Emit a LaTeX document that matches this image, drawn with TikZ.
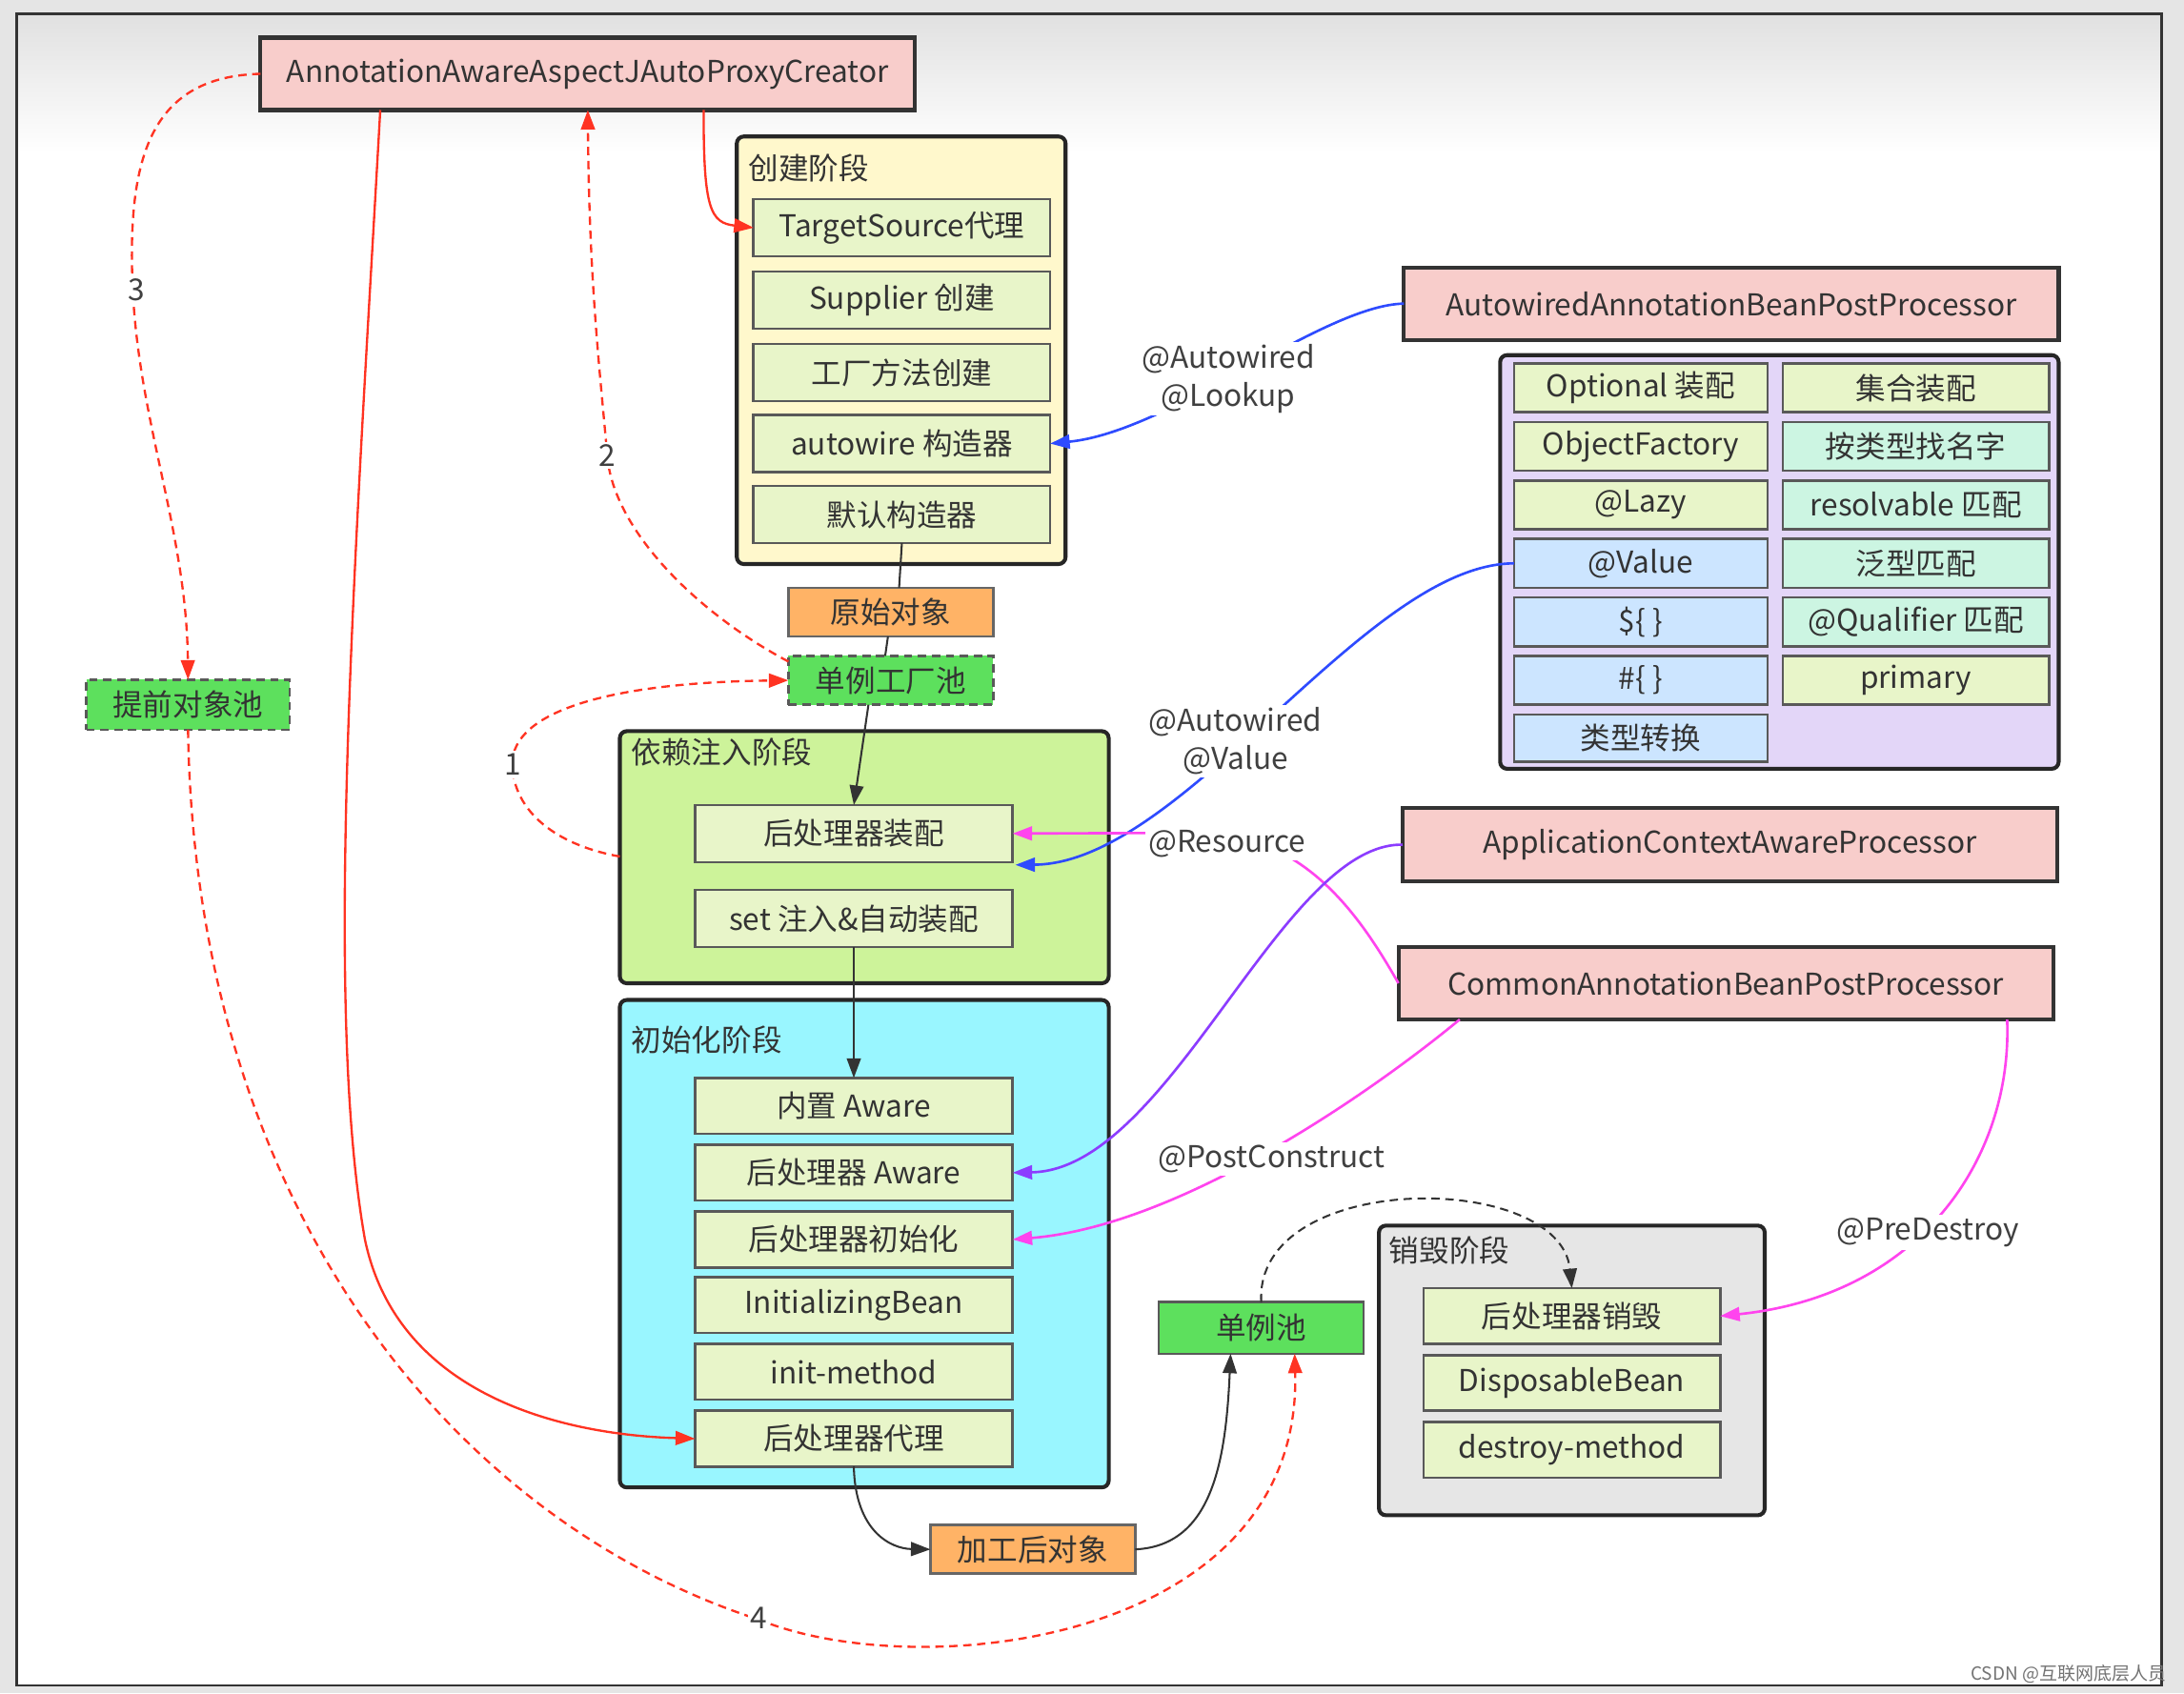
\documentclass[tikz,border=0pt]{standalone}
\usepackage{fontspec}
\setmainfont{Noto Sans CJK SC}
\usetikzlibrary{arrows.meta,fit,calc}
\definecolor{pinkc}{HTML}{F8CDCB}
\definecolor{yelc}{HTML}{FFF8CC}
\definecolor{cellc}{HTML}{E8F5C9}
\definecolor{orgc}{HTML}{FFB366}
\definecolor{grnc}{HTML}{5DE05D}
\definecolor{dic}{HTML}{CDF39A}
\definecolor{cyc}{HTML}{99F6FF}
\definecolor{gyc}{HTML}{E6E6E6}
\definecolor{lavc}{HTML}{E3D6F8}
\definecolor{bluc}{HTML}{CCE5FF}
\definecolor{mintc}{HTML}{CCF5E2}
\definecolor{txtc}{HTML}{333333}
\definecolor{redl}{HTML}{FF3322}
\definecolor{blul}{HTML}{2E4BFF}
\definecolor{magl}{HTML}{FF44EE}
\definecolor{purl}{HTML}{8C3CFF}
\newcommand\boxat[7]{\node[#2, fit={(#3,#4) (#5,#6)}] (#1) {};
  \node[inner sep=0pt, anchor=center] (#1t) at (#1.center) {#7};}
\begin{document}
\begin{tikzpicture}[x=0.5pt,y=-0.5pt,
  every node/.style={font=\fontsize{10.8pt}{13.5pt}\selectfont, text=txtc},
  base/.style={inner sep=0pt, outer sep=0pt},
  pinkbox/.style={base, draw=black!80, line width=1.4pt, fill=pinkc},
  cell/.style={base, draw=black!65, line width=0.9pt, fill=cellc},
  bcell/.style={cell, fill=bluc},
  mcell/.style={cell, fill=mintc},
  cont/.style={base, draw=black!85, line width=1.4pt, rounded corners=2.5pt},
  orgbox/.style={base, draw=black!60, line width=0.9pt, fill=orgc},
  grnbox/.style={base, draw=black!65, line width=0.9pt, fill=grnc},
  dgrnbox/.style={grnbox, dash pattern=on 3pt off 2pt},
  ttl/.style={anchor=west, inner sep=0pt},
  lbl/.style={fill=white, inner sep=1pt, align=center, text=black!75},
  arr/.style={-{Triangle[length=7pt,width=5pt]}},
  redsolid/.style={arr, draw=redl, line width=0.8pt},
  reddash/.style={arr, draw=redl, line width=0.8pt, dash pattern=on 3pt off 2pt},
  blk/.style={arr, draw=black!80, line width=0.7pt},
  blue/.style={arr, draw=blul, line width=0.9pt},
  mag/.style={arr, draw=magl, line width=0.9pt},
  pur/.style={arr, draw=purl, line width=0.9pt}]
% background
\fill[black!10] (0,0) rectangle (1568,1216);
\fill[white] (12,10) rectangle (1552,1210);
\shade[top color=black!12, bottom color=white] (12,10) rectangle (1552,110);
\draw[black!80, line width=0.8pt] (12,10) rectangle (1552,1210);
\useasboundingbox (0,0) rectangle (1568,1216);

% containers
\boxat{cj}{cont, fill=yelc}{529}{98}{765}{405}{}
\boxat{di}{cont, fill=dic}{445}{525}{796}{706}{}
\boxat{cs}{cont, fill=cyc}{445}{718}{796}{1068}{}
\boxat{xh}{cont, fill=gyc}{990}{880}{1267}{1088}{}
\boxat{grid}{cont, fill=lavc}{1077}{255}{1478}{552}{}
\node[ttl] (t1) at (537,121) {创建阶段};
\node[ttl] (t2) at (453,540) {依赖注入阶段};
\node[ttl] (t3) at (453,747) {初始化阶段};
\node[ttl] (t4) at (997,898) {销毁阶段};

% top-level boxes
\boxat{aa}{pinkbox}{187}{27}{657}{79}{AnnotationAwareAspectJAutoProxyCreator}
\boxat{aabpp}{pinkbox}{1008}{192}{1478}{244}{AutowiredAnnotationBeanPostProcessor}
\boxat{acap}{pinkbox}{1007}{580}{1477}{633}{ApplicationContextAwareProcessor}
\boxat{cabpp}{pinkbox}{1004}{680}{1474}{732}{CommonAnnotationBeanPostProcessor}

% creation phase
\boxat{ts}{cell}{541}{143}{754}{184}{TargetSource代理}
\boxat{sup}{cell}{541}{195}{754}{236}{Supplier 创建}
\boxat{gc}{cell}{541}{247}{754}{288}{工厂方法创建}
\boxat{aw}{cell}{541}{298}{754}{339}{autowire 构造器}
\boxat{mr}{cell}{541}{349}{754}{390}{默认构造器}

\boxat{ys}{orgbox}{566}{422}{713}{457}{原始对象}
\boxat{dl}{dgrnbox}{566}{471}{713}{506}{单例工厂池}
\boxat{tq}{dgrnbox}{62}{488}{208}{524}{提前对象池}

% DI phase
\boxat{hz}{cell}{499}{578}{727}{619}{后处理器装配}
\boxat{st}{cell}{499}{639}{727}{680}{set 注入\&自动装配}

% init phase
\boxat{nz}{cell}{499}{774}{727}{814}{内置 Aware}
\boxat{ha}{cell}{499}{822}{727}{862}{后处理器 Aware}
\boxat{hi}{cell}{499}{870}{727}{910}{后处理器初始化}
\boxat{ib}{cell}{499}{917}{727}{957}{InitializingBean}
\boxat{im}{cell}{499}{965}{727}{1005}{init-method}
\boxat{hd}{cell}{499}{1013}{727}{1053}{后处理器代理}

\boxat{jg}{orgbox}{668}{1095}{815}{1130}{加工后对象}
\boxat{sp}{grnbox}{832}{935}{979}{972}{单例池}

% destroy phase
\boxat{hx}{cell}{1022}{925}{1235}{965}{后处理器销毁}
\boxat{db}{cell}{1022}{973}{1235}{1013}{DisposableBean}
\boxat{dm}{cell}{1022}{1021}{1235}{1061}{destroy-method}

% grid
\boxat{g11}{cell}{1087}{261}{1269}{296}{Optional 装配}
\boxat{g12}{cell}{1280}{261}{1471}{296}{集合装配}
\boxat{g21}{cell}{1087}{303}{1269}{338}{ObjectFactory}
\boxat{g22}{mcell}{1280}{303}{1471}{338}{按类型找名字}
\boxat{g31}{cell}{1087}{345}{1269}{380}{@Lazy}
\boxat{g32}{mcell}{1280}{345}{1471}{380}{resolvable 匹配}
\boxat{g41}{bcell}{1087}{387}{1269}{422}{@Value}
\boxat{g42}{mcell}{1280}{387}{1471}{422}{泛型匹配}
\boxat{g51}{bcell}{1087}{429}{1269}{464}{\$\{ \}}
\boxat{g52}{mcell}{1280}{429}{1471}{464}{@Qualifier 匹配}
\boxat{g61}{bcell}{1087}{471}{1269}{506}{\#\{ \}}
\boxat{g62}{cell}{1280}{471}{1471}{506}{primary}
\boxat{g71}{bcell}{1087}{513}{1269}{547}{类型转换}

% black flow
\draw[black!80, line width=0.7pt] (mr.south) -- ($(ys.north)+(6,0)$);
\draw[black!80, line width=0.7pt] ($(ys.south)+(-2,0)$) -- ($(dl.north)+(-4,0)$);
\draw[blk] ($(dl.south)+(-16,0)$) -- (hz.north);
\draw[blk] (st.south) -- (nz.north);
\draw[blk] (hd.south) .. controls (614,1100) and (640,1112) .. (jg.west);
\draw[blk] (jg.east) .. controls (870,1110) and (880,1050) .. ($(sp.south)+(-22,0)$);
\draw[blk, dash pattern=on 3pt off 2pt] (sp.north) .. controls (900,840) and (1120,840) .. (hx.north);

% red
\draw[redsolid] ($(aa.south west)!0.183!(aa.south east)$) .. controls (255,400) and (232,720) .. (262,890)
   .. controls (285,1000) and (400,1030) .. (hd.west);
\draw[redsolid] ($(aa.south west)!0.677!(aa.south east)$) .. controls (505,150) and (510,160) .. (ts.west);
\draw[reddash] ($(dl.north west)+(0,4)$) .. controls (500,440) and (440,380) .. (436,327)
   .. controls (430,260) and (423,200) .. (aa.south);
\draw[reddash] (aa.west) .. controls (110,55) and (92,110) .. (95,200)
   .. controls (98,300) and (134,380) .. (tq.north);
\draw[reddash] (di.west |- 0,615) .. controls (390,605) and (366,575) .. (368,545)
   .. controls (372,510) and (440,490) .. (dl.west);
\draw[reddash] (tq.south) .. controls (140,860) and (320,1090) .. (545,1163)
   .. controls (660,1210) and (935,1180) .. ($(sp.south)+(24,0)$);

% blue / magenta / purple
\draw[blue] (aabpp.west) .. controls (950,219) and (840,310) .. (aw.east);
\draw[blue] (g41.west) .. controls (980,405) and (850,620) .. ($(hz.south east)+(2,2)$);
\draw[mag] (cabpp.west) .. controls (975,655) and (935,598) .. (860,598) -- (hz.east);
\draw[pur] (acap.west) .. controls (920,605) and (840,840) .. (ha.east);
\draw[mag] ($(cabpp.south west)+(44,0)$) .. controls (990,780) and (850,880) .. (hi.east);
\draw[mag] ($(cabpp.south east)+(-33,0)$) .. controls (1445,830) and (1380,930) .. (hx.east);

% labels
\node[lbl] (l1) at (368,549) {1};
\node[lbl] (l2) at (436,327) {2};
\node[lbl] (l3) at (98,208) {3};
\node[lbl] (l4) at (545,1162) {4};
\node[lbl] (la) at (882,272) {@Autowired\\@Lookup};
\node[lbl] (lb) at (887,532) {@Autowired\\@Value};
\node[lbl] (lc) at (881,606) {@Resource};
\node[lbl] (ld) at (913,832) {@PostConstruct};
\node[lbl] (le) at (1384,885) {@PreDestroy};
\node[inner sep=0pt, text=black!55, font=\fontsize{6.5pt}{7pt}\selectfont] (wm) at (1485,1202) {CSDN @互联网底层人员};
\end{tikzpicture}
\end{document}
